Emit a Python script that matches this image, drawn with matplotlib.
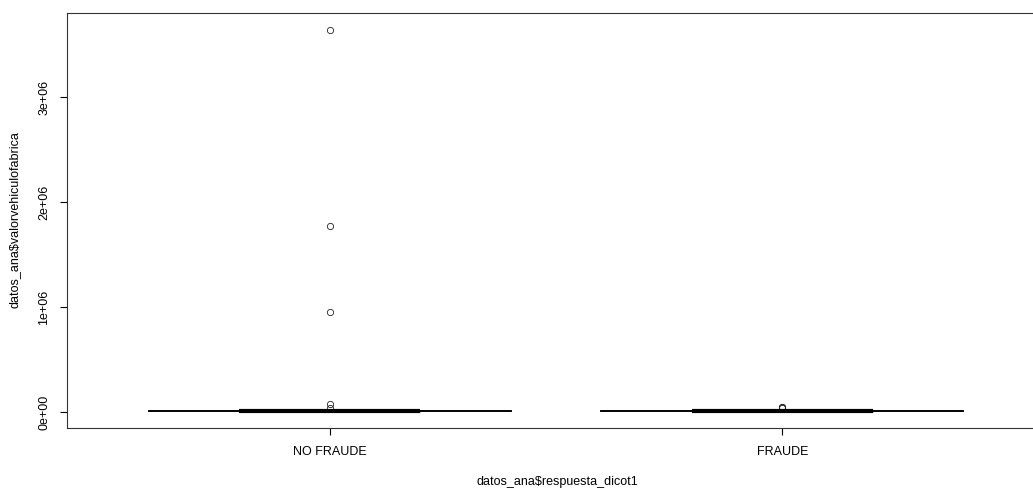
import matplotlib.pyplot as plt

plt.rcParams['font.family'] = ['Liberation Sans', 'DejaVu Sans']

# grupos y resumen de cinco numeros de valorvehiculofabrica
grupos = ["NO FRAUDE", "FRAUDE"]
q1 = [9000, 8500]
mediana = [10000, 9500]
q3 = [11000, 10500]
bigote_inf = [8000, 7500]
bigote_sup = [13000, 12500]
atipicos = [
    [3640000, 1770000, 955000, 75000, 40000],
    [42000, 46000, 50000],
]
yticks = [0, 1e6, 2e6, 3e6]
ytick_labels = ["0e+00", "1e+06", "2e+06", "3e+06"]

stats = []
for i, g in enumerate(grupos):
    stats.append({
        "label": g,
        "q1": q1[i], "med": mediana[i], "q3": q3[i],
        "whislo": bigote_inf[i], "whishi": bigote_sup[i],
        "fliers": atipicos[i],
    })

fig = plt.figure(figsize=(10.33, 4.88), dpi=100)
ax = fig.add_axes([67 / 1033, 1 - 428 / 488, (1045 - 67) / 1033, (428 - 13) / 488])

ax.bxp(stats, positions=[1, 2], widths=0.4, capwidths=0.8,
       boxprops=dict(color="black", linewidth=1),
       medianprops=dict(color="black", linewidth=3),
       whiskerprops=dict(color="black", linewidth=1, linestyle="--"),
       capprops=dict(color="black", linewidth=1.2),
       flierprops=dict(marker="o", markersize=4.5, markerfacecolor="none",
                       markeredgecolor="#222222", markeredgewidth=0.6))

ax.set_xlim(0.42, 2.58)
ax.set_ylim(-152000, 3800000)
ax.set_xticks([1, 2])
ax.set_xticklabels(grupos)
ax.set_yticks(yticks)
ax.set_yticklabels(ytick_labels, rotation=90, va="center")

ax.tick_params(axis="both", direction="out", length=5, width=0.8, labelsize=9, colors="black")
ax.tick_params(axis="y", pad=7)
ax.tick_params(axis="x", pad=8)
for s in ax.spines.values():
    s.set_linewidth(0.8)
    s.set_color("#333333")

fig.text(15 / 1033, 1 - 220 / 488, "datos_ana$valorvehiculofabrica", rotation=90,
         ha="center", va="center", fontsize=9)
fig.text(557 / 1033, 1 - 482 / 488, "datos_ana$respuesta_dicot1",
         ha="center", va="center", fontsize=9)

fig.savefig("out.png", dpi=100)
